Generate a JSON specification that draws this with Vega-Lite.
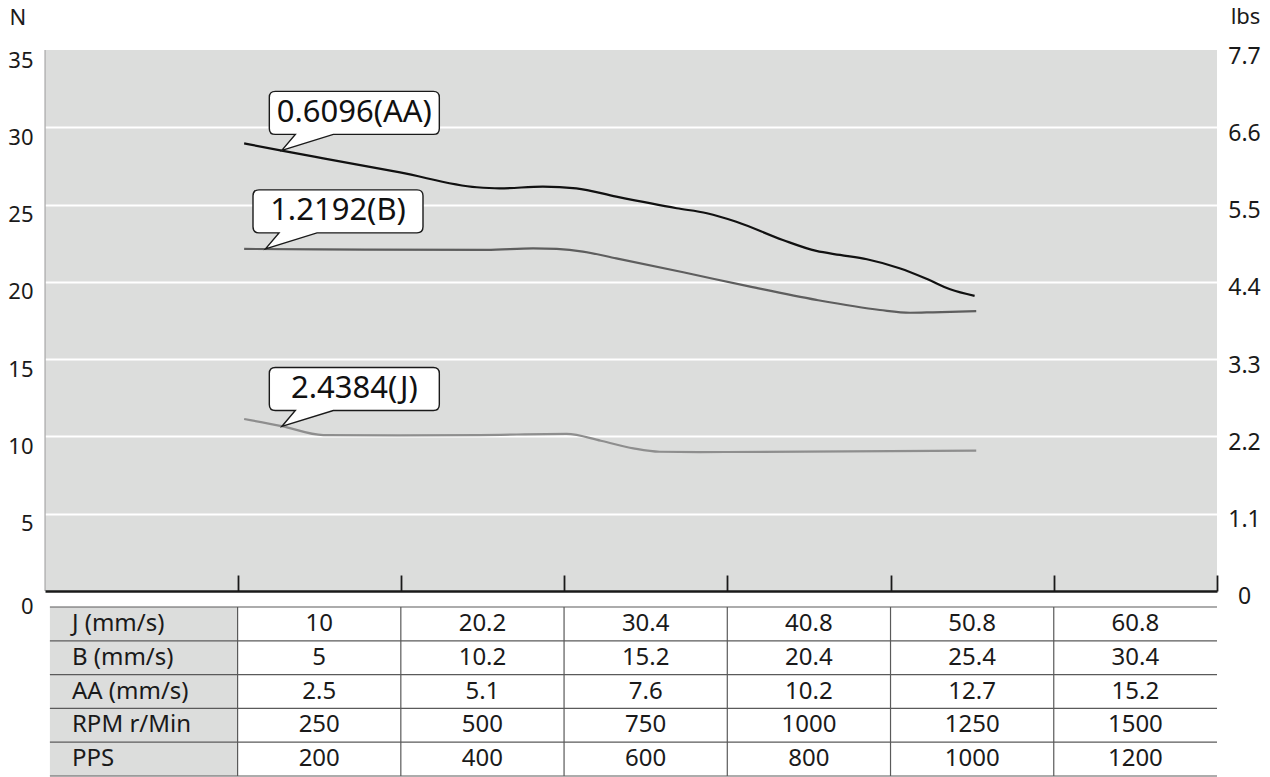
{
  "$schema": "https://vega.github.io/schema/vega-lite/v6.json",
  "width": 1172,
  "height": 726,
  "autosize": {"type": "none"},
  "padding": {"left": 45, "top": 50, "right": 53, "bottom": 1},
  "background": "white",
  "config": {
    "view": {"fill": "#dcdddc", "stroke": null},
    "font": "Noto Sans",
    "axisX": {"labels": false, "title": null, "grid": false, "offset": -185, "domain": true, "domainColor": "#1a1a1a", "domainWidth": 2.5, "ticks": true, "tickColor": "#1a1a1a", "tickWidth": 1.8, "tickSize": -16, "zindex": 1}
  },
  "datasets": {
    "curves": [
      {"series": "AA", "pps": 108, "N": 28.96},
      {"series": "AA", "pps": 154, "N": 28.49},
      {"series": "AA", "pps": 205, "N": 27.99},
      {"series": "AA", "pps": 299, "N": 27.08},
      {"series": "AA", "pps": 393, "N": 26.12},
      {"series": "AA", "pps": 421, "N": 26.05},
      {"series": "AA", "pps": 474, "N": 26.16},
      {"series": "AA", "pps": 515, "N": 26.05},
      {"series": "AA", "pps": 564, "N": 25.51},
      {"series": "AA", "pps": 638, "N": 24.76},
      {"series": "AA", "pps": 675, "N": 24.44},
      {"series": "AA", "pps": 711, "N": 23.89},
      {"series": "AA", "pps": 768, "N": 22.71},
      {"series": "AA", "pps": 809, "N": 22.0},
      {"series": "AA", "pps": 838, "N": 21.74},
      {"series": "AA", "pps": 871, "N": 21.46},
      {"series": "AA", "pps": 911, "N": 20.88},
      {"series": "AA", "pps": 944, "N": 20.2},
      {"series": "AA", "pps": 973, "N": 19.52},
      {"series": "AA", "pps": 1003, "N": 19.09},
      {"series": "B", "pps": 108, "N": 22.13},
      {"series": "B", "pps": 256, "N": 22.09},
      {"series": "B", "pps": 405, "N": 22.07},
      {"series": "B", "pps": 462, "N": 22.17},
      {"series": "B", "pps": 491, "N": 22.13},
      {"series": "B", "pps": 523, "N": 21.96},
      {"series": "B", "pps": 564, "N": 21.52},
      {"series": "B", "pps": 646, "N": 20.62},
      {"series": "B", "pps": 728, "N": 19.69},
      {"series": "B", "pps": 809, "N": 18.83},
      {"series": "B", "pps": 887, "N": 18.18},
      {"series": "B", "pps": 924, "N": 18.0},
      {"series": "B", "pps": 952, "N": 18.03},
      {"series": "B", "pps": 1005, "N": 18.11},
      {"series": "J", "pps": 108, "N": 11.13},
      {"series": "J", "pps": 154, "N": 10.67},
      {"series": "J", "pps": 205, "N": 10.09},
      {"series": "J", "pps": 299, "N": 10.07},
      {"series": "J", "pps": 397, "N": 10.09},
      {"series": "J", "pps": 503, "N": 10.16},
      {"series": "J", "pps": 545, "N": 9.72},
      {"series": "J", "pps": 585, "N": 9.23},
      {"series": "J", "pps": 617, "N": 9.01},
      {"series": "J", "pps": 666, "N": 8.99},
      {"series": "J", "pps": 1005, "N": 9.08}
    ],
    "callouts": [
      {"label": "0.6096(AA)", "pps": 243, "N": 30.93},
      {"label": "1.2192(B)", "pps": 223, "N": 24.56},
      {"label": "2.4384(J)", "pps": 243, "N": 13.07}
    ],
    "speeds": [
      {"pps": 200, "J": 10, "B": 5, "AA": 2.5, "RPM": 250},
      {"pps": 400, "J": 20.2, "B": 10.2, "AA": 5.1, "RPM": 500},
      {"pps": 600, "J": 30.4, "B": 15.2, "AA": 7.6, "RPM": 750},
      {"pps": 800, "J": 40.8, "B": 20.4, "AA": 10.2, "RPM": 1000},
      {"pps": 1000, "J": 50.8, "B": 25.4, "AA": 12.7, "RPM": 1250},
      {"pps": 1200, "J": 60.8, "B": 30.4, "AA": 15.2, "RPM": 1500}
    ],
    "rowlabels": [
      {"key": "J", "label": "J (mm/s)"},
      {"key": "B", "label": "B (mm/s)"},
      {"key": "AA", "label": "AA (mm/s)"},
      {"key": "RPM", "label": "RPM r/Min"},
      {"key": "pps", "label": "PPS"}
    ]
  },
  "layer": [
    {
      "layer": [
        {
          "data": {"values": [{}]},
          "mark": {"type": "rect", "fill": "white"},
          "encoding": {
            "x": {"datum": -136, "type": "quantitative", "scale": {"domain": [-136, 1300], "nice": false, "zero": false}},
            "x2": {"datum": 1300},
            "y": {"datum": 0, "type": "quantitative", "scale": {"domain": [-11.969, 35], "nice": false, "zero": false}},
            "y2": {"datum": -11.969}
          }
        },
        {
          "data": {"values": [{}]},
          "mark": {"type": "rule", "color": "#9a9a9a", "strokeWidth": 1},
          "encoding": {
            "x": {"datum": -136, "type": "quantitative", "scale": {"domain": [-136, 1300], "nice": false, "zero": false}},
            "y": {"datum": 0, "type": "quantitative", "scale": {"domain": [-11.969, 35], "nice": false, "zero": false}},
            "y2": {"datum": 35}
          }
        },
        {
          "data": {"name": "curves"},
          "mark": {"type": "line", "interpolate": "monotone", "strokeWidth": 2.2},
          "encoding": {
            "x": {"field": "pps", "type": "quantitative", "scale": {"domain": [-136, 1300], "nice": false, "zero": false},
              "axis": {"values": [100, 300, 500, 700, 900, 1100, 1300], "labels": false, "title": null, "grid": false, "offset": -185, "domainColor": "#1a1a1a", "domainWidth": 2.5, "tickColor": "#1a1a1a", "tickWidth": 1.8, "tickSize": -16, "zindex": 1}},
            "y": {"field": "N", "type": "quantitative", "scale": {"domain": [-11.969, 35], "nice": false, "zero": false},
              "axis": {"orient": "left", "values": [0, 5, 10, 15, 20, 25, 30, 35], "domain": false, "ticks": false, "tickSize": 0, "labelPadding": 12, "labelAlign": "right", "labelBaseline": "middle", "labelFontSize": 22, "labelColor": "#1a1a1a", "labelFont": "Noto Sans", "labelFlush": false, "labelOverlap": false,
                "labelOffset": {"condition": {"test": "datum.value === 0", "value": 16}, "value": 10},
                "grid": true, "gridColor": "#ffffff", "gridWidth": 2,
                "gridOpacity": {"condition": {"test": "datum.value === 0 || datum.value === 35", "value": 0}, "value": 1},
                "title": "N", "titleAngle": 0, "titleAlign": "left", "titleBaseline": "middle", "titleX": -36, "titleY": -33, "titleFontSize": 22, "titleFontWeight": "normal", "titleColor": "#1a1a1a", "titleFont": "Noto Sans"}},
            "color": {"field": "series", "type": "nominal", "scale": {"domain": ["AA", "B", "J"], "range": ["#111111", "#5e5e5e", "#8e8e8e"]}, "legend": null}
          }
        },
        {
          "data": {"name": "callouts"},
          "mark": {"type": "point", "shape": "M -79 -21.5 L 79 -21.5 Q 85 -21.5 85 -15.5 L 85 15.5 Q 85 21.5 79 21.5 L -21 21.5 L -72.5 37.5 L -59 21.5 L -79 21.5 Q -85 21.5 -85 15.5 L -85 -15.5 Q -85 -21.5 -79 -21.5 Z", "size": 4, "filled": true, "fill": "white", "stroke": "#1a1a1a", "strokeWidth": 1.4, "opacity": 1, "fillOpacity": 1, "strokeOpacity": 1},
          "encoding": {
            "x": {"field": "pps", "type": "quantitative", "scale": {"domain": [-136, 1300], "nice": false, "zero": false}},
            "y": {"field": "N", "type": "quantitative", "scale": {"domain": [-11.969, 35], "nice": false, "zero": false}}
          }
        },
        {
          "data": {"name": "callouts"},
          "mark": {"type": "text", "fontSize": 31, "color": "#111111", "align": "center", "baseline": "middle"},
          "encoding": {
            "x": {"field": "pps", "type": "quantitative", "scale": {"domain": [-136, 1300], "nice": false, "zero": false}},
            "y": {"field": "N", "type": "quantitative", "scale": {"domain": [-11.969, 35], "nice": false, "zero": false}},
            "text": {"field": "label", "type": "nominal"}
          }
        }
      ]
    },
    {
      "data": {"values": [{}]},
      "mark": {"type": "point", "opacity": 0},
      "encoding": {
        "y": {"datum": 0, "type": "quantitative", "scale": {"domain": [-11.969, 35], "nice": false, "zero": false},
          "axis": {"orient": "right", "values": [0, 5, 10, 15, 20, 25, 30, 35], "labelExpr": "datum.value === 0 ? '0' : format(datum.value * 0.22, '.1f')", "domain": false, "ticks": false, "tickSize": 0, "labelPadding": 27, "labelAlign": "center", "labelBaseline": "middle", "labelOffset": 6, "labelFontSize": 23, "labelColor": "#1a1a1a", "labelFont": "Noto Sans", "labelFlush": false, "labelOverlap": false, "grid": false,
            "title": "lbs", "titleAngle": 0, "titleAlign": "center", "titleBaseline": "middle", "titleX": 28, "titleY": -34, "titleFontSize": 22, "titleFontWeight": "normal", "titleColor": "#1a1a1a", "titleFont": "Noto Sans"}}
      }
    },
    {
      "layer": [
        {
          "data": {"name": "rowlabels"},
          "mark": {"type": "rect", "fill": "#dcdddc"},
          "encoding": {
            "x": {"datum": -130, "type": "quantitative", "scale": {"domain": [-136, 1300], "nice": false, "zero": false}},
            "x2": {"datum": 100},
            "y": {"field": "key", "type": "nominal", "scale": {"type": "band", "domain": ["J", "B", "AA", "RPM", "pps"], "range": [557, 726], "paddingInner": 0, "paddingOuter": 0}, "axis": null}
          }
        },
        {
          "data": {"name": "rowlabels"},
          "mark": {"type": "text", "align": "left", "baseline": "middle", "fontSize": 24, "color": "#1a1a1a"},
          "encoding": {
            "x": {"datum": -103, "type": "quantitative", "scale": {"domain": [-136, 1300], "nice": false, "zero": false}},
            "y": {"field": "key", "type": "nominal", "scale": {"type": "band", "domain": ["J", "B", "AA", "RPM", "pps"], "range": [557, 726], "paddingInner": 0, "paddingOuter": 0}, "axis": null},
            "text": {"field": "label", "type": "nominal"}
          }
        },
        {
          "data": {"name": "speeds"},
          "transform": [{"fold": ["J", "B", "AA", "RPM", "pps"], "as": ["key", "v"]}],
          "mark": {"type": "text", "align": "center", "baseline": "middle", "fontSize": 24, "color": "#1a1a1a"},
          "encoding": {
            "x": {"field": "pps", "type": "quantitative", "scale": {"domain": [-136, 1300], "nice": false, "zero": false}},
            "y": {"field": "key", "type": "nominal", "scale": {"type": "band", "domain": ["J", "B", "AA", "RPM", "pps"], "range": [557, 726], "paddingInner": 0, "paddingOuter": 0}, "axis": null},
            "text": {"field": "v", "type": "nominal"}
          }
        },
        {
          "data": {"name": "rowlabels"},
          "mark": {"type": "rule", "color": "#5a5a5a", "strokeWidth": 1.2},
          "encoding": {
            "x": {"datum": -130, "type": "quantitative", "scale": {"domain": [-136, 1300], "nice": false, "zero": false}},
            "x2": {"datum": 1300},
            "y": {"field": "key", "type": "nominal", "bandPosition": 0, "scale": {"type": "band", "domain": ["J", "B", "AA", "RPM", "pps"], "range": [557, 726], "paddingInner": 0, "paddingOuter": 0}, "axis": null}
          }
        },
        {
          "data": {"values": [{}]},
          "mark": {"type": "rule", "color": "#5a5a5a", "strokeWidth": 1.2},
          "encoding": {
            "x": {"datum": -130, "type": "quantitative", "scale": {"domain": [-136, 1300], "nice": false, "zero": false}},
            "x2": {"datum": 1300},
            "y": {"datum": "pps", "type": "nominal", "bandPosition": 1, "scale": {"type": "band", "domain": ["J", "B", "AA", "RPM", "pps"], "range": [557, 726], "paddingInner": 0, "paddingOuter": 0}, "axis": null}
          }
        },
        {
          "data": {"name": "speeds"},
          "mark": {"type": "rule", "color": "#5a5a5a", "strokeWidth": 1.2, "xOffset": -81.63},
          "encoding": {
            "x": {"field": "pps", "type": "quantitative", "scale": {"domain": [-136, 1300], "nice": false, "zero": false}},
            "y": {"datum": "J", "type": "nominal", "bandPosition": 0, "scale": {"type": "band", "domain": ["J", "B", "AA", "RPM", "pps"], "range": [557, 726], "paddingInner": 0, "paddingOuter": 0}, "axis": null},
            "y2": {"datum": "pps", "bandPosition": 1}
          }
        }
      ]
    }
  ],
  "resolve": {"scale": {"y": "independent"}, "axis": {"y": "independent"}}
}
